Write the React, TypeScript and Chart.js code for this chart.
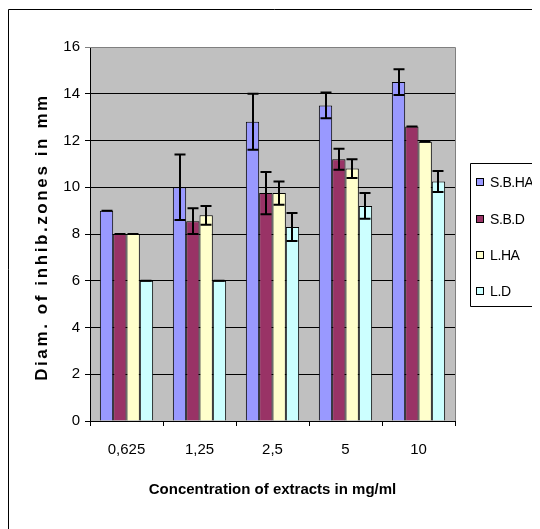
import React, { useEffect, useRef } from "react";
import { Chart, registerables } from "chart.js";

Chart.register(...registerables);

const categories = ["0,625", "1,25", "2,5", "5", "10"];
const seriesNames = ["S.B.HA", "S.B.D", "L.HA", "L.D"];
const sbhaValues = [9, 10, 12.8, 13.5, 14.5];
const sbdValues = [8, 8.55, 9.75, 11.2, 12.6];
const lhaValues = [8, 8.8, 9.75, 10.8, 11.95];
const ldValues = [6, 6, 8.3, 9.2, 10.25];
const sbhaErrors = [0, 1.4, 1.2, 0.55, 0.55];
const sbdErrors = [0, 0.55, 0.9, 0.45, 0];
const lhaErrors = [0, 0.4, 0.5, 0.4, 0];
const ldErrors = [0, 0, 0.6, 0.55, 0.45];
const yMin = 0;
const yMax = 16;
const yStep = 2;
const xTitle = "Concentration of extracts in mg/ml";
const yTitle = "Diam. of inhib.zones in mm";
const seriesColors = ["#9999FF", "#993366", "#FFFFCC", "#CCFFFF"];

const allValues = [sbhaValues, sbdValues, lhaValues, ldValues];
const allErrors = [sbhaErrors, sbdErrors, lhaErrors, ldErrors];

const FONT = "'Liberation Sans', Arial, sans-serif";

const backgroundPlugin = {
  id: "excelBackground",
  beforeDraw(chart: any) {
    const { ctx, chartArea } = chart;
    ctx.save();
    ctx.strokeStyle = "#000";
    ctx.lineWidth = 1;
    ctx.beginPath();
    ctx.moveTo(0.5, chart.height);
    ctx.lineTo(0.5, 1.5);
    ctx.lineTo(chart.width, 1.5);
    ctx.stroke();
    ctx.fillStyle = "#C0C0C0";
    ctx.fillRect(
      chartArea.left,
      chartArea.top,
      chartArea.right - chartArea.left,
      chartArea.bottom - chartArea.top
    );
    ctx.restore();
  },
  beforeDatasetsDraw(chart: any) {
    const { ctx, chartArea } = chart;
    ctx.save();
    ctx.strokeStyle = "#808080";
    ctx.lineWidth = 1;
    ctx.beginPath();
    ctx.moveTo(chartArea.left, Math.round(chartArea.top) + 0.5);
    ctx.lineTo(Math.round(chartArea.right) + 0.5, Math.round(chartArea.top) + 0.5);
    ctx.lineTo(Math.round(chartArea.right) + 0.5, chartArea.bottom);
    ctx.stroke();
    ctx.restore();
  },
};

const errorBarPlugin = {
  id: "errorBars",
  afterDatasetsDraw(chart: any) {
    const { ctx } = chart;
    const yScale = chart.scales.y;
    ctx.save();
    ctx.strokeStyle = "#000";
    ctx.lineWidth = 2;
    chart.data.datasets.forEach((ds: any, i: number) => {
      const meta = chart.getDatasetMeta(i);
      const errs = allErrors[i];
      meta.data.forEach((bar: any, j: number) => {
        const v = ds.data[j];
        const e = errs[j];
        const x = Math.round(bar.x);
        const yTop = yScale.getPixelForValue(v + e);
        const yBot = yScale.getPixelForValue(v - e);
        const half = 5.5;
        ctx.beginPath();
        ctx.moveTo(x, yTop);
        ctx.lineTo(x, yBot);
        ctx.moveTo(x - half, yTop);
        ctx.lineTo(x + half, yTop);
        ctx.moveTo(x - half, yBot);
        ctx.lineTo(x + half, yBot);
        ctx.stroke();
      });
    });
    ctx.restore();
  },
};

const titleAndLegendPlugin = {
  id: "titleAndLegend",
  afterDraw(chart: any) {
    const { ctx, chartArea } = chart;
    ctx.save();
    ctx.translate(34, (chartArea.top + chartArea.bottom) / 2 + 3);
    ctx.rotate(-Math.PI / 2);
    ctx.font = `bold 17px ${FONT}`;
    (ctx as any).letterSpacing = "2.6px";
    ctx.fillStyle = "#000";
    ctx.textAlign = "center";
    ctx.textBaseline = "middle";
    ctx.fillText(yTitle, 0, 0);
    ctx.restore();

    ctx.save();
    const boxLeft = 462.5;
    const boxTop = 155.5;
    const boxBottom = 298.5;
    ctx.strokeStyle = "#000";
    ctx.lineWidth = 1;
    ctx.beginPath();
    ctx.moveTo(chart.width + 2, boxTop);
    ctx.lineTo(boxLeft, boxTop);
    ctx.lineTo(boxLeft, boxBottom);
    ctx.lineTo(chart.width + 2, boxBottom);
    ctx.stroke();
    const rows = [174, 211, 247, 283];
    ctx.font = `14px ${FONT}`;
    (ctx as any).letterSpacing = "-0.4px";
    ctx.textBaseline = "middle";
    ctx.textAlign = "left";
    chart.data.datasets.forEach((ds: any, i: number) => {
      const cy = rows[i];
      ctx.fillStyle = ds.backgroundColor;
      ctx.fillRect(468, cy - 3.5, 7, 7);
      ctx.strokeStyle = "#000";
      ctx.strokeRect(468.5, cy - 3.5, 7, 7);
      ctx.fillStyle = "#000";
      ctx.fillText(ds.label, 482, cy + 1);
    });
    ctx.restore();
  },
};

export default function App() {
  const canvasRef = useRef<HTMLCanvasElement | null>(null);

  useEffect(() => {
    if (!canvasRef.current) return;
    Chart.defaults.font.family = FONT;
    Chart.defaults.color = "#000";
    const chart = new Chart(canvasRef.current, {
      type: "bar",
      data: {
        labels: categories,
        datasets: seriesNames.map((name, i) => ({
          label: name,
          data: allValues[i],
          backgroundColor: seriesColors[i],
          borderColor: "#000",
          borderWidth: 1,
          borderSkipped: "bottom",
          categoryPercentage: 0.73,
          barPercentage: 1,
        })),
      },
      options: {
        responsive: false,
        animation: false,
        layout: { padding: { left: 0, top: 39, right: 85, bottom: 0 } },
        plugins: {
          legend: { display: false },
          tooltip: { enabled: false },
        },
        scales: {
          x: {
            grid: {
              display: true,
              drawOnChartArea: false,
              drawTicks: true,
              tickLength: 5,
              color: "#000",
              offset: true,
            },
            border: { display: true, color: "#000", width: 1 },
            ticks: { font: { size: 15 }, padding: 15, color: "#000" },
            title: {
              display: true,
              text: xTitle,
              font: { size: 15, weight: "bold" },
              padding: { top: 0, bottom: 30 },
              color: "#000",
            },
            afterFit(scale: any) {
              scale.height = 108;
            },
          },
          y: {
            min: yMin,
            max: yMax,
            ticks: { stepSize: yStep, font: { size: 15 }, padding: 5, color: "#000" },
            grid: {
              color: (c: any) => (c.tick && c.tick.value === yMax ? "#808080" : "#000"),
              tickLength: 5,
              drawTicks: true,
            },
            border: { display: true, color: "#000", width: 1 },
            afterFit(scale: any) {
              scale.width = 82;
            },
          },
        },
      },
      plugins: [backgroundPlugin, errorBarPlugin, titleAndLegendPlugin],
    } as any);
    return () => chart.destroy();
  }, []);

  return (
    <canvas
      ref={canvasRef}
      width={532}
      height={521}
      style={{ display: "block", width: 532, height: 521 }}
    />
  );
}
